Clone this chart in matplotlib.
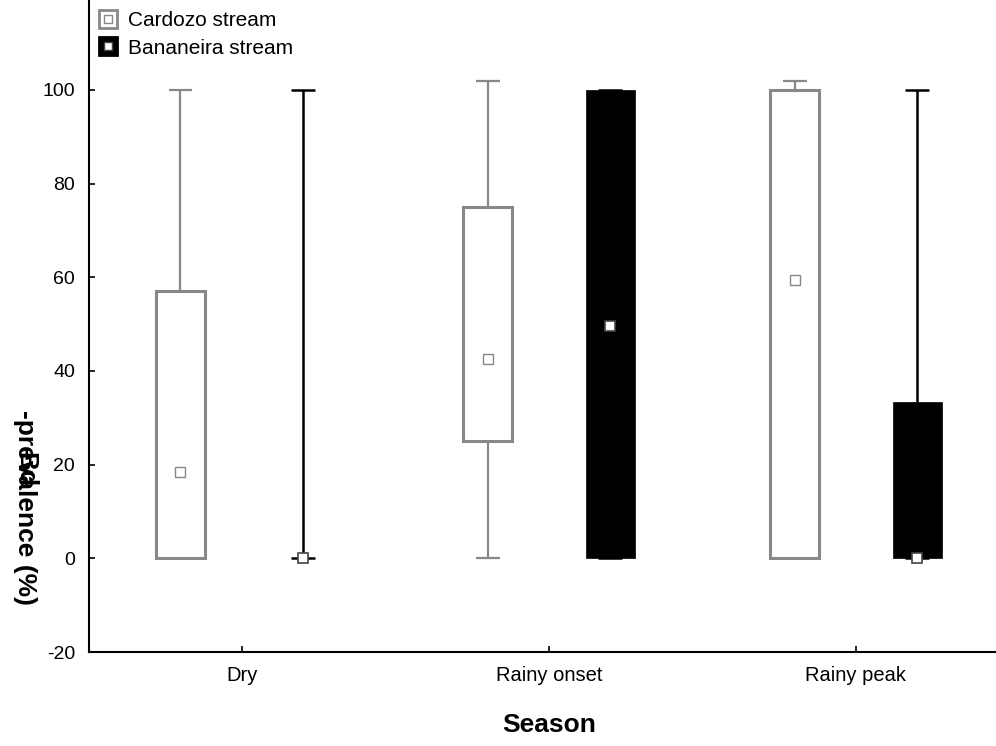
import numpy as np
import matplotlib.pyplot as plt
from matplotlib.patches import Rectangle
from matplotlib.legend_handler import HandlerTuple
from matplotlib.lines import Line2D

plt.rcParams['font.family'] = ['Liberation Sans', 'DejaVu Sans']
plt.rcParams['axes.unicode_minus'] = False

seasons = ['Dry', 'Rainy onset', 'Rainy peak']

# Cardozo stream
card_mean = [18.5, 42.5, 59.5]
card_q1 = [0, 25, 0]
card_q3 = [57, 75, 100]
card_min = [0, 0, 0]
card_max = [100, 102, 102]

# Bananeira stream
ban_mean = [0, 49.5, 0]
ban_q1 = [0, 0, 0]
ban_q3 = [0, 100, 33.3]
ban_min = [0, 0, 0]
ban_max = [100, 100, 100]

gray = '#888888'
off = 0.2
bw = 0.16
cw = 0.078

fig = plt.figure(figsize=(9.96, 7.46), dpi=100)
ax = fig.add_axes([89 / 996, 0.126, 1 - 89 / 996, 0.874])

x = np.arange(len(seasons))


def draw_box(xc, q1, q3, lo, hi, mean, color, filled, lw):
    # whiskers
    ax.vlines(xc, q3, hi, color=color, lw=lw, zorder=2)
    ax.vlines(xc, lo, q1, color=color, lw=lw, zorder=2)
    ax.hlines([lo, hi], xc - cw / 2, xc + cw / 2, color=color, lw=lw, zorder=2)
    if filled:
        if q3 > q1:
            ax.add_patch(Rectangle((xc - bw / 2, q1), bw, q3 - q1, facecolor=color,
                                   edgecolor=color, lw=0.5, zorder=3))
        ax.plot(xc, mean, 's', ms=7, mfc='white', mec='#444444', mew=1.2, zorder=4)
    else:
        ax.add_patch(Rectangle((xc - bw / 2, q1), bw, q3 - q1, facecolor='white',
                               edgecolor=color, lw=2.2, zorder=3))
        ax.plot(xc, mean, 's', ms=7, mfc='white', mec=color, mew=1.0, zorder=4)


for i in range(len(seasons)):
    draw_box(x[i] - off, card_q1[i], card_q3[i], card_min[i], card_max[i],
             card_mean[i], gray, False, 1.6)
    draw_box(x[i] + off, ban_q1[i], ban_q3[i], ban_min[i], ban_max[i],
             ban_mean[i], 'black', True, 1.8)

ax.set_xlim(-0.498, 2.456)
ax.set_ylim(-20, 119.2)
ax.set_yticks(np.arange(-20, 101, 20))
ax.set_xticks(x)
ax.set_xticklabels(seasons)
ax.tick_params(axis='y', direction='in', length=4, width=1.2, labelsize=14, pad=10)
ax.tick_params(axis='x', direction='in', length=4, width=1.2, labelsize=14.5, pad=10)
for s in ['top', 'right']:
    ax.spines[s].set_visible(False)
for s in ['left', 'bottom']:
    ax.spines[s].set_linewidth(1.5)

fig.text(549 / 996, 1 - 725 / 746, 'Season', ha='center', va='center',
         fontsize=19, fontweight='bold')
fig.text(25 / 996, 1 - 507 / 746, '-prevalence (%)', rotation=270, ha='center',
         va='center', fontsize=19, fontweight='bold')
fig.text(25 / 996, 1 - 470 / 746, 'Bd', rotation=270, ha='center',
         va='center', fontsize=19, fontweight='bold')

h_card = (Line2D([], [], ls='none', marker='s', ms=13, mfc='white', mec=gray, mew=2),
          Line2D([], [], ls='none', marker='s', ms=6, mfc='white', mec=gray, mew=1))
h_ban = (Line2D([], [], ls='none', marker='s', ms=13, mfc='black', mec='black', mew=2),
         Line2D([], [], ls='none', marker='s', ms=6, mfc='white', mec='#444444', mew=1))
fig.legend([h_card, h_ban], ['Cardozo stream', 'Bananeira stream'],
           handler_map={tuple: HandlerTuple(ndivide=1)},
           loc='upper left', bbox_to_anchor=(84 / 996, 1.005), frameon=False,
           fontsize=15, handlelength=0.9, handletextpad=0.5, labelspacing=0.42,
           borderpad=0.2)

fig.savefig('out.png', dpi=100)
